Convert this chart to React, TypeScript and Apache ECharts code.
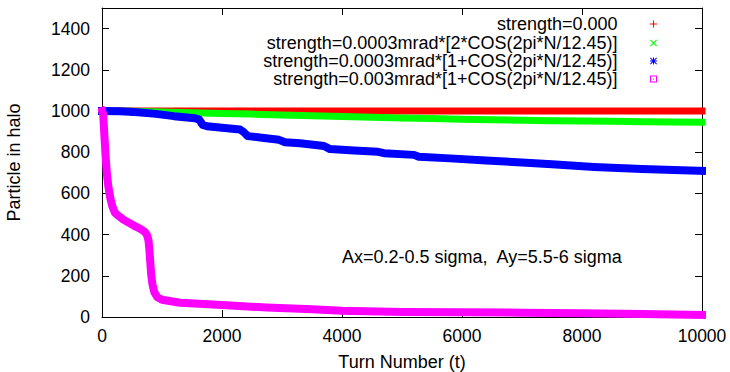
import React, { useEffect, useRef } from 'react';
import * as echarts from 'echarts';

const FONT = '"Liberation Sans", Arial, Helvetica, sans-serif';

const seriesNames = [
  'strength=0.000',
  'strength=0.0003mrad*[2*COS(2pi*N/12.45)]',
  'strength=0.0003mrad*[1+COS(2pi*N/12.45)]',
  'strength=0.003mrad*[1+COS(2pi*N/12.45)]',
];
const seriesColors = ['#ff0000', '#00ff00', '#0000ff', '#ff00ff'];

const xTicks = { min: 0, max: 10000, step: 2000 };
const yTicks = { min: 0, max: 1500, step: 200 };

const xTitle = 'Turn Number (t)';
const yTitle = 'Particle in halo';
const note = 'Ax=0.2-0.5 sigma,  Ay=5.5-6 sigma';

// [turn, particles]
const redData: [number, number][] = [
  [0, 1000], [2000, 1000], [4000, 1000], [6000, 1000], [8000, 1000], [10000, 1000],
];
const greenData: [number, number][] = [
  [0, 1000], [500, 999], [1000, 995], [1500, 991], [2000, 988], [2500, 985],
  [3000, 981], [3500, 977], [4000, 973], [4500, 970], [5000, 966], [5500, 963],
  [6000, 960], [6500, 957], [7000, 955], [7500, 953], [8000, 951], [8500, 950],
  [9000, 948], [9500, 947], [10000, 946],
];
const blueData: [number, number][] = [
  [0, 1000], [300, 999], [600, 994], [900, 986], [1200, 975], [1550, 965],
  [1620, 958], [1680, 932], [1750, 926], [2000, 919], [2300, 910], [2360, 898],
  [2430, 878], [2700, 869], [2950, 860], [3050, 848], [3300, 843], [3700, 830],
  [3800, 815], [4200, 808], [4600, 802], [4700, 795], [5200, 787], [5280, 778],
  [5800, 770], [6400, 760], [7000, 750], [7500, 741], [8200, 728], [9000, 718],
  [10000, 709],
];
const magentaData: [number, number][] = [
  [0, 1000], [20, 985], [40, 880], [60, 780], [80, 700], [105, 635], [140, 575],
  [175, 535], [215, 506], [270, 492], [350, 474], [450, 457], [550, 441],
  [650, 426], [710, 414], [750, 398], [775, 372], [790, 325], [805, 265],
  [820, 205], [840, 160], [870, 122], [920, 97], [1000, 84], [1300, 69],
  [2000, 58], [2750, 46], [3500, 38], [4000, 30], [5000, 24], [6000, 23],
  [7000, 21], [8000, 18], [9000, 14], [10000, 10],
];
const allData = [redData, greenData, blueData, magentaData];

const legendIcons = [
  'path://M3,0H4V7H3Z M0,3H7V4H0Z',
  'path://M0,0.7L0.7,0L7,6.3L6.3,7Z M6.3,0L7,0.7L0.7,7L0,6.3Z',
  'path://M3,0H4V7H3Z M0,3H7V4H0Z M0,0.7L0.7,0L7,6.3L6.3,7Z M6.3,0L7,0.7L0.7,7L0,6.3Z',
  'path://M0,0H7V7H0Z M1,1V6H6V1Z M3,3H4V4H3Z',
];

export default function App() {
  const ref = useRef<HTMLDivElement>(null);
  useEffect(() => {
    document.body.style.margin = '0';
    const chart = echarts.init(ref.current!, null, { renderer: 'svg' });
    const axisLine = { show: true, onZero: false, lineStyle: { color: '#000', width: 1 } };
    const axisTick = { show: true, inside: true, length: 7, lineStyle: { color: '#000', width: 1 } };
    const lineWidths = [7, 7, 8, 8];
    const legendTops = [15, 34, 52, 70];
    const plain = (v: number) => String(v);
    const option: any = {
      animation: false,
      backgroundColor: '#fff',
      textStyle: { fontFamily: FONT },
      grid: { left: 102, right: 28, top: 8, bottom: 55, containLabel: false, outerBoundsMode: 'none' },
      xAxis: [
        {
          type: 'value', position: 'bottom', min: xTicks.min, max: xTicks.max, interval: xTicks.step,
          axisLine, axisTick, splitLine: { show: false },
          axisLabel: { fontSize: 17.5, color: '#000', margin: 10, fontFamily: FONT, formatter: plain },
          name: xTitle, nameLocation: 'middle', nameGap: 36,
          nameTextStyle: { fontSize: 18, color: '#000', fontFamily: FONT },
        },
        {
          type: 'value', position: 'top', min: xTicks.min, max: xTicks.max, interval: xTicks.step,
          axisLine, axisTick, splitLine: { show: false }, axisLabel: { show: false },
        },
      ],
      yAxis: [
        {
          type: 'value', position: 'left', min: yTicks.min, max: yTicks.max, interval: yTicks.step,
          axisLine, axisTick, splitLine: { show: false },
          axisLabel: { fontSize: 17.5, color: '#000', margin: 12, showMaxLabel: false, fontFamily: FONT, formatter: plain },
          name: yTitle, nameLocation: 'middle', nameGap: 79, nameRotate: 90,
          nameTextStyle: { fontSize: 18, color: '#000', fontFamily: FONT },
        },
        {
          type: 'value', position: 'right', min: yTicks.min, max: yTicks.max, interval: yTicks.step,
          axisLine, axisTick, splitLine: { show: false }, axisLabel: { show: false },
        },
      ],
      legend: seriesNames.map((n, i) => ({
        data: [n], orient: 'horizontal', align: 'right', right: 73, top: legendTops[i],
        padding: 0, itemWidth: 62, itemHeight: 7, icon: legendIcons[i], selectedMode: false,
        itemStyle: { color: seriesColors[i], borderWidth: 0 },
        textStyle: { fontSize: 18, lineHeight: 17, color: '#000', fontFamily: FONT },
      })),
      series: seriesNames.map((n, i) => ({
        type: 'line', name: n, data: allData[i], xAxisIndex: 0, yAxisIndex: 0,
        symbol: 'none', showSymbol: false, clip: false,
        itemStyle: { color: seriesColors[i] },
        lineStyle: { color: seriesColors[i], width: lineWidths[i], cap: 'square', join: 'round' },
      })),
      graphic: [
        {
          type: 'text', left: 342, top: 248,
          style: { text: note, fontSize: 18, fill: '#000', fontFamily: FONT },
        },
      ],
    };
    chart.setOption(option);
    return () => chart.dispose();
  }, []);
  return <div ref={ref} style={{ width: 730, height: 372 }} />;
}
